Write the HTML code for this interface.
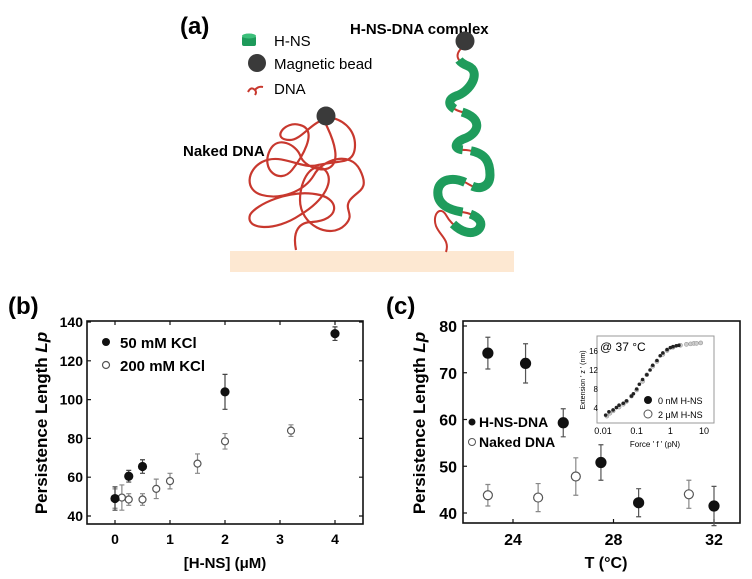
<!DOCTYPE html>
<html><head><meta charset="utf-8"><style>
html,body{margin:0;padding:0;background:#fff;}
svg{display:block;font-family:"Liberation Sans",sans-serif;}
.b{font-weight:bold;}
</style></head><body>
<svg id="fig" width="752" height="579" viewBox="0 0 752 579">
<!-- Panel a -->
<g>
<text x="180" y="34" class="b" font-size="24">(a)</text>
<rect x="230" y="251" width="284" height="21" fill="#fde8d2"/>
<g>
<rect x="242" y="36" width="14" height="10" rx="2" fill="#1d9a5a"/>
<ellipse cx="249" cy="36" rx="7" ry="2.5" fill="#3cbf7a"/>
<circle cx="257" cy="63" r="9" fill="#3a3a3a"/>
<path d="M248,92 q3,-6 7,-2 q2,2 0,5 M255,90 q3,-4 8,-3" stroke="#c8382e" stroke-width="2" fill="none"/>
<text x="274" y="46" font-size="15">H-NS</text>
<text x="274" y="69" font-size="15">Magnetic bead</text>
<text x="274" y="94" font-size="15">DNA</text>
</g>
<text x="183" y="156" class="b" font-size="15">Naked DNA</text>
<text x="350" y="34" class="b" font-size="15">H-NS-DNA complex</text>
<path fill="none" stroke="#c8382e" stroke-width="2.2" d="M296,250 C292,230 300,222 312,222 C340,220 340,200 320,195 C290,188 255,205 250,215 C245,230 275,232 300,215 C325,200 335,180 325,170 C312,160 300,180 300,200 C300,225 330,240 345,225 C356,214 343,210 350,200 C358,190 370,190 360,170 C350,150 322,160 314,175 C304,192 280,200 262,195 C244,190 247,170 262,162 C282,152 300,170 318,165 C340,160 355,165 355,145 C355,128 340,118 330,118 C312,120 302,140 290,140 C270,140 285,120 300,125 C320,130 300,160 292,170 C280,185 260,170 270,150 C278,135 296,145 300,155 C304,170 340,180 335,150 C332,130 320,120 326,115"/>
<circle cx="326" cy="116" r="9.5" fill="#3a3a3a"/>
<g>
<path fill="none" stroke="#c8382e" stroke-width="2" d="M465,45 C452,55 458,62 468,66 C482,72 470,92 456,96 C446,100 448,108 462,112 C482,118 480,132 466,138 C454,142 452,150 466,150 C484,152 490,160 490,175 C490,188 478,190 470,185 C456,176 440,178 438,190 C436,205 450,210 462,212 C476,214 486,222 478,230 C468,238 452,226 446,215 C440,205 432,215 436,226 C440,236 450,240 446,252"/>
<path fill="none" stroke="#1f9c5c" stroke-width="9" stroke-dasharray="0 18 70 8 60 8 60 8 70 8 50 300" d="M465,45 C452,55 458,62 468,66 C482,72 470,92 456,96 C446,100 448,108 462,112 C482,118 480,132 466,138 C454,142 452,150 466,150 C484,152 490,160 490,175 C490,188 478,190 470,185 C456,176 440,178 438,190 C436,205 450,210 462,212 C476,214 486,222 478,230 C468,238 452,226 446,215 C440,205 432,215 436,226 C440,236 450,240 446,252"/>
</g>
<circle cx="465" cy="41" r="9.5" fill="#3a3a3a"/>
</g>
<g id="pb"></g>
<g id="pc"></g>
</svg>
<script>
const NS="http://www.w3.org/2000/svg";
// Panel b data
const bTicksX=[0,1,2,3,4];
const bTicksY=[40,60,80,100,120,140];
const b50X=[0,0.25,0.5,2,4];
const b50Y=[49,60.5,65.5,104,134];
const b50E=[6,3,3.5,9,3.5];
const b200X=[0,0.125,0.25,0.5,0.75,1,1.5,2,3.2];
const b200Y=[49,49.5,48.5,48.5,54,58,67,78.5,84];
const b200E=[5,6.5,3,3,5,4,5,4,3];
// Panel c data
const cTicksX=[24,28,32];
const cTicksY=[40,50,60,70,80];
const cHX=[23,24.5,26,27.5,29,32];
const cHY=[74.2,72,59.3,50.8,42.2,41.5];
const cHE=[3.4,4.2,3,3.8,3,4.2];
const cNX=[23,25,26.5,31];
const cNY=[43.8,43.3,47.8,44];
const cNE=[2.3,3,4,3];
// Inset data
const iTicksX=[0.01,0.1,1,10];
const iTicksY=[4,8,12,16];
const i0F=[0.012,0.015,0.02,0.025,0.03,0.04,0.05,0.07,0.08,0.1,0.12,0.15,0.2,0.25,0.3,0.4,0.5,0.6,0.8,1,1.2,1.5,1.8];
const i0Z=[2.5,3.2,3.6,4.1,4.6,5.0,5.5,6.5,7,8,9,10,11,12,13,14,15,15.6,16.3,16.7,16.9,17.1,17.2];
const i2F=[0.013,0.016,0.02,0.03,0.04,0.05,0.07,0.1,0.15,0.2,0.3,0.4,0.6,0.8,1.2,2,3,4,5,6,8];
const i2Z=[2.3,2.9,3.4,4.2,4.8,5.4,6.5,7.8,9.6,11,12.8,13.8,15.3,16.1,16.8,17.2,17.4,17.5,17.6,17.6,17.7];

function mk(p,t,a,txt){const e=document.createElementNS(NS,t);for(const k in a)e.setAttribute(k,a[k]);if(txt!==undefined)e.textContent=txt;p.appendChild(e);return e;}
function lin(d0,d1,r0,r1){return v=>r0+(v-d0)/(d1-d0)*(r1-r0);}

function errPts(g,xs,ys,es,sx,sy,filled,r,ecol,name){
  for(let i=0;i<xs.length;i++){
    const x=sx(xs[i]),y=sy(ys[i]),y1=sy(ys[i]+es[i]),y2=sy(ys[i]-es[i]);
    const l=mk(g,'path',{d:`M${x},${y1}V${y2}M${x-2.5},${y1}H${x+2.5}M${x-2.5},${y2}H${x+2.5}`,stroke:ecol,'stroke-width':1.2,fill:'none'});
    
    
    const c=mk(g,'circle',{cx:x,cy:y,r:r,fill:filled?'#111':'#fff',stroke:filled?'#111':'#555','stroke-width':1.2});
    
    
  }
}
function axesBox(g,L,T,R,B){
  const f=mk(g,'rect',{x:L,y:T,width:R-L,height:B-T,fill:'none',stroke:'#111','stroke-width':1.6});
  
  
}

// Panel b
(function(){
const g=document.getElementById('pb');
const L=87,R=363,T=321,B=524;
const sx=lin(0,4,115,335), sy=lin(40,140,516,322);
mk(g,'text',{x:8,y:314,class:'b','font-size':24},'(b)');
axesBox(g,L,T,R,B);
bTicksY.forEach(v=>{const y=sy(v);mk(g,'path',{d:`M${L},${y}h4M${R},${y}h-4`,stroke:'#111','stroke-width':1.2});
 const t=mk(g,'text',{x:L-4,y:y+5,'text-anchor':'end',class:'b','font-size':14},v);});
bTicksX.forEach(v=>{const x=sx(v);mk(g,'path',{d:`M${x},${B}v-4M${x},${T}v4`,stroke:'#111','stroke-width':1.2});
 const t=mk(g,'text',{x:x,y:B+20,'text-anchor':'middle',class:'b','font-size':14},v);});
const yt=mk(g,'text',{x:0,y:0,transform:'translate(47,423) rotate(-90)','text-anchor':'middle',class:'b','font-size':17});
yt.innerHTML='Persistence Length <tspan font-style="italic">Lp</tspan>';

const xt=mk(g,'text',{x:225,y:568,'text-anchor':'middle',class:'b','font-size':15},'[H-NS] (μM)');

errPts(g,b200X,b200Y,b200E,sx,sy,false,3.5,'#888','kcl200');
errPts(g,b50X,b50Y,b50E,sx,sy,true,4,'#444','kcl50');
mk(g,'circle',{cx:106,cy:342,r:4,fill:'#111'});
mk(g,'text',{x:120,y:348,class:'b','font-size':15},'50 mM KCl');
mk(g,'circle',{cx:106,cy:365,r:3.5,fill:'#fff',stroke:'#555','stroke-width':1.2});
mk(g,'text',{x:120,y:371,class:'b','font-size':15},'200 mM KCl');
})();

// Panel c
(function(){
const g=document.getElementById('pc');
const L=463,R=740,T=321,B=523;
const sx=lin(24,32,513,714), sy=lin(40,80,513,326);
mk(g,'text',{x:386,y:314,class:'b','font-size':24},'(c)');
axesBox(g,L,T,R,B);
cTicksY.forEach(v=>{const y=sy(v);mk(g,'path',{d:`M${L},${y}h4`,stroke:'#111','stroke-width':1.2});
 const t=mk(g,'text',{x:L-6,y:y+6,'text-anchor':'end',class:'b','font-size':16},v);});
cTicksX.forEach(v=>{const x=sx(v);mk(g,'path',{d:`M${x},${B}v-4`,stroke:'#111','stroke-width':1.2});
 const t=mk(g,'text',{x:x,y:B+22,'text-anchor':'middle',class:'b','font-size':16},v);});
const yt=mk(g,'text',{x:0,y:0,transform:'translate(425,423) rotate(-90)','text-anchor':'middle',class:'b','font-size':17});
yt.innerHTML='Persistence Length <tspan font-style="italic">Lp</tspan>';

const xt=mk(g,'text',{x:606,y:568,'text-anchor':'middle',class:'b','font-size':16},'T (°C)');

errPts(g,cNX,cNY,cNE,sx,sy,false,4.5,'#888','naked-dna');
errPts(g,cHX,cHY,cHE,sx,sy,true,5,'#555','hns-dna');
mk(g,'circle',{cx:472,cy:422,r:3.5,fill:'#111'});
mk(g,'text',{x:479,y:427,class:'b','font-size':14},'H-NS-DNA');
mk(g,'circle',{cx:472,cy:442,r:3.5,fill:'#fff',stroke:'#555'});
mk(g,'text',{x:479,y:447,class:'b','font-size':14},'Naked DNA');
// inset
const ig=mk(g,'g',{});


const iL=597,iR=714,iT=336,iB=423;
const ix=v=>603+(Math.log10(v)+2)*(704-603)/3, iy=lin(4,16,408,351);
mk(ig,'rect',{x:iL,y:iT,width:iR-iL,height:iB-iT,fill:'#fff',stroke:'#999','stroke-width':1});
iTicksX.forEach(v=>{mk(ig,'text',{x:ix(v),y:iB+11,'text-anchor':'middle','font-size':9},v);});
iTicksY.forEach(v=>{mk(ig,'text',{x:iL+1,y:iy(v)+3,'text-anchor':'end','font-size':8},v);});
mk(ig,'text',{x:655,y:447,'text-anchor':'middle','font-size':8},"Force ' f ' (pN)");
mk(ig,'text',{x:0,y:0,transform:'translate(585,380) rotate(-90)','text-anchor':'middle','font-size':7},"Extension ' z ' (nm)");
mk(ig,'text',{x:600,y:351,'font-size':12},'@ 37 °C');
for(let i=0;i<i2F.length;i++){const c=mk(ig,'circle',{cx:ix(i2F[i]),cy:iy(i2Z[i]),r:2,fill:'#ccc',stroke:'#999','stroke-width':0.6});}
for(let i=0;i<i0F.length;i++){const c=mk(ig,'circle',{cx:ix(i0F[i]),cy:iy(i0Z[i]),r:1.8,fill:'#222'});}
mk(ig,'circle',{cx:648,cy:400,r:4,fill:'#111'});
mk(ig,'text',{x:658,y:404,'font-size':9},'0 nM H-NS');
mk(ig,'circle',{cx:648,cy:414,r:4,fill:'#fff',stroke:'#555'});
mk(ig,'text',{x:658,y:418,'font-size':9},'2 μM H-NS');
})();
</script>
</body></html>
